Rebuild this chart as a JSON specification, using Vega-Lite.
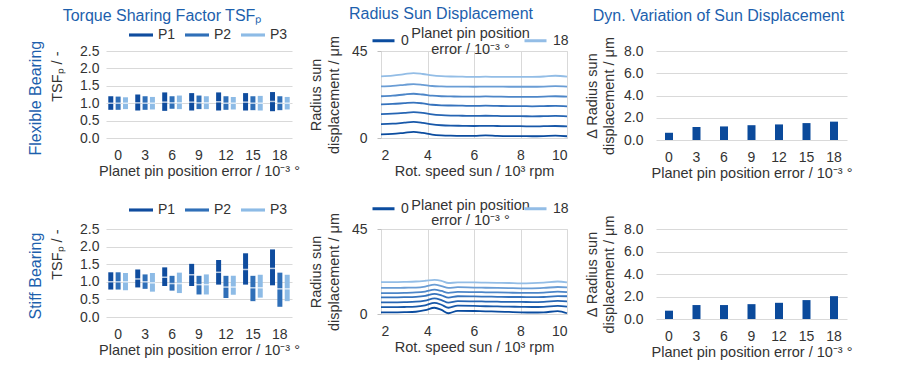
{
  "$schema": "https://vega.github.io/schema/vega-lite/v6.json",
  "background": "white",
  "padding": {"left": 27, "top": 5, "right": 5, "bottom": 5},
  "config": {
    "font": "Liberation Sans",
    "view": {"stroke": null},
    "axis": {"labelFont": "Liberation Sans", "titleFont": "Liberation Sans", "labelFontSize": 14, "labelColor": "#333333", "titleFontSize": 14.5, "titleFontWeight": "normal", "titleColor": "#333333", "gridColor": "#d9d9d9", "domain": false, "ticks": false},
    "legend": {"labelFont": "Liberation Sans", "labelFontSize": 14, "labelColor": "#333333", "padding": 0},
    "title": {"font": "Liberation Sans", "fontSize": 16, "fontWeight": "normal", "color": "#1d5fad"}
  },
  "datasets": {
    "tsf": [
      {"b": "Flexible", "err": 0, "P": "P1", "min": 0.81, "max": 1.20, "mean": 1.00},
      {"b": "Flexible", "err": 0, "P": "P2", "min": 0.81, "max": 1.19, "mean": 1.00},
      {"b": "Flexible", "err": 0, "P": "P3", "min": 0.83, "max": 1.17, "mean": 1.00},
      {"b": "Flexible", "err": 3, "P": "P1", "min": 0.79, "max": 1.25, "mean": 1.01},
      {"b": "Flexible", "err": 3, "P": "P2", "min": 0.81, "max": 1.20, "mean": 1.00},
      {"b": "Flexible", "err": 3, "P": "P3", "min": 0.82, "max": 1.18, "mean": 1.00},
      {"b": "Flexible", "err": 6, "P": "P1", "min": 0.78, "max": 1.31, "mean": 1.03},
      {"b": "Flexible", "err": 6, "P": "P2", "min": 0.84, "max": 1.20, "mean": 1.01},
      {"b": "Flexible", "err": 6, "P": "P3", "min": 0.83, "max": 1.22, "mean": 1.01},
      {"b": "Flexible", "err": 9, "P": "P1", "min": 0.79, "max": 1.29, "mean": 1.03},
      {"b": "Flexible", "err": 9, "P": "P2", "min": 0.83, "max": 1.22, "mean": 1.01},
      {"b": "Flexible", "err": 9, "P": "P3", "min": 0.83, "max": 1.20, "mean": 1.01},
      {"b": "Flexible", "err": 12, "P": "P1", "min": 0.79, "max": 1.31, "mean": 1.04},
      {"b": "Flexible", "err": 12, "P": "P2", "min": 0.81, "max": 1.20, "mean": 1.00},
      {"b": "Flexible", "err": 12, "P": "P3", "min": 0.82, "max": 1.18, "mean": 1.00},
      {"b": "Flexible", "err": 15, "P": "P1", "min": 0.79, "max": 1.29, "mean": 1.03},
      {"b": "Flexible", "err": 15, "P": "P2", "min": 0.80, "max": 1.20, "mean": 1.00},
      {"b": "Flexible", "err": 15, "P": "P3", "min": 0.79, "max": 1.21, "mean": 1.00},
      {"b": "Flexible", "err": 18, "P": "P1", "min": 0.77, "max": 1.32, "mean": 1.05},
      {"b": "Flexible", "err": 18, "P": "P2", "min": 0.80, "max": 1.20, "mean": 1.00},
      {"b": "Flexible", "err": 18, "P": "P3", "min": 0.82, "max": 1.18, "mean": 1.00},
      {"b": "Stiff", "err": 0, "P": "P1", "min": 0.78, "max": 1.27, "mean": 1.00},
      {"b": "Stiff", "err": 0, "P": "P2", "min": 0.78, "max": 1.27, "mean": 1.00},
      {"b": "Stiff", "err": 0, "P": "P3", "min": 0.76, "max": 1.25, "mean": 1.00},
      {"b": "Stiff", "err": 3, "P": "P1", "min": 0.84, "max": 1.35, "mean": 1.08},
      {"b": "Stiff", "err": 3, "P": "P2", "min": 0.80, "max": 1.21, "mean": 1.00},
      {"b": "Stiff", "err": 3, "P": "P3", "min": 0.72, "max": 1.25, "mean": 0.97},
      {"b": "Stiff", "err": 6, "P": "P1", "min": 0.88, "max": 1.41, "mean": 1.13},
      {"b": "Stiff", "err": 6, "P": "P2", "min": 0.75, "max": 1.17, "mean": 0.95},
      {"b": "Stiff", "err": 6, "P": "P3", "min": 0.68, "max": 1.26, "mean": 0.95},
      {"b": "Stiff", "err": 9, "P": "P1", "min": 0.88, "max": 1.51, "mean": 1.20},
      {"b": "Stiff", "err": 9, "P": "P2", "min": 0.64, "max": 1.17, "mean": 0.92},
      {"b": "Stiff", "err": 9, "P": "P3", "min": 0.64, "max": 1.21, "mean": 0.92},
      {"b": "Stiff", "err": 12, "P": "P1", "min": 0.92, "max": 1.62, "mean": 1.27},
      {"b": "Stiff", "err": 12, "P": "P2", "min": 0.54, "max": 1.17, "mean": 0.85},
      {"b": "Stiff", "err": 12, "P": "P3", "min": 0.63, "max": 1.17, "mean": 0.85},
      {"b": "Stiff", "err": 15, "P": "P1", "min": 0.92, "max": 1.81, "mean": 1.35},
      {"b": "Stiff", "err": 15, "P": "P2", "min": 0.45, "max": 1.17, "mean": 0.83},
      {"b": "Stiff", "err": 15, "P": "P3", "min": 0.55, "max": 1.20, "mean": 0.83},
      {"b": "Stiff", "err": 18, "P": "P1", "min": 0.90, "max": 1.92, "mean": 1.38},
      {"b": "Stiff", "err": 18, "P": "P2", "min": 0.29, "max": 1.26, "mean": 0.80},
      {"b": "Stiff", "err": 18, "P": "P3", "min": 0.45, "max": 1.20, "mean": 0.80}
    ],
    "rad": [
      {"b": "Flexible", "s": 2, "0": 1.9, "3": 7.2, "6": 12.4, "9": 17.4, "12": 21.6, "15": 26.7, "18": 31.9},
      {"b": "Flexible", "s": 2.5, "0": 2.1, "3": 7.4, "6": 12.6, "9": 17.6, "12": 21.9, "15": 27.0, "18": 32.3},
      {"b": "Flexible", "s": 3, "0": 2.7, "3": 7.9, "6": 13.0, "9": 18.0, "12": 22.5, "15": 27.5, "18": 33.0},
      {"b": "Flexible", "s": 3.4, "0": 3.2, "3": 8.3, "6": 13.4, "9": 18.3, "12": 22.9, "15": 27.9, "18": 33.6},
      {"b": "Flexible", "s": 3.8, "0": 2.6, "3": 7.8, "6": 13.0, "9": 17.9, "12": 22.5, "15": 27.5, "18": 33.1},
      {"b": "Flexible", "s": 4.2, "0": 1.8, "3": 7.0, "6": 12.2, "9": 17.2, "12": 21.9, "15": 26.9, "18": 32.4},
      {"b": "Flexible", "s": 4.6, "0": 1.4, "3": 6.6, "6": 11.8, "9": 16.9, "12": 21.6, "15": 26.7, "18": 32.0},
      {"b": "Flexible", "s": 5, "0": 1.2, "3": 6.4, "6": 11.6, "9": 16.8, "12": 21.5, "15": 26.6, "18": 31.8},
      {"b": "Flexible", "s": 5.5, "0": 1.1, "3": 6.3, "6": 11.5, "9": 16.7, "12": 21.4, "15": 26.6, "18": 31.7},
      {"b": "Flexible", "s": 6, "0": 1.1, "3": 6.2, "6": 11.4, "9": 16.6, "12": 21.4, "15": 26.5, "18": 31.6},
      {"b": "Flexible", "s": 6.5, "0": 1.4, "3": 6.3, "6": 11.5, "9": 16.7, "12": 21.5, "15": 26.6, "18": 31.7},
      {"b": "Flexible", "s": 7, "0": 1.1, "3": 6.2, "6": 11.4, "9": 16.6, "12": 21.4, "15": 26.6, "18": 31.6},
      {"b": "Flexible", "s": 7.5, "0": 1.0, "3": 6.1, "6": 11.3, "9": 16.5, "12": 21.3, "15": 26.5, "18": 31.6},
      {"b": "Flexible", "s": 8, "0": 1.0, "3": 6.1, "6": 11.3, "9": 16.5, "12": 21.3, "15": 26.5, "18": 31.6},
      {"b": "Flexible", "s": 8.5, "0": 0.9, "3": 6.0, "6": 11.2, "9": 16.4, "12": 21.3, "15": 26.5, "18": 31.6},
      {"b": "Flexible", "s": 9, "0": 1.0, "3": 6.1, "6": 11.3, "9": 16.5, "12": 21.4, "15": 26.6, "18": 31.8},
      {"b": "Flexible", "s": 9.5, "0": 1.2, "3": 6.2, "6": 11.4, "9": 16.6, "12": 21.6, "15": 26.8, "18": 32.2},
      {"b": "Flexible", "s": 10, "0": 0.9, "3": 6.0, "6": 11.2, "9": 16.4, "12": 21.4, "15": 26.6, "18": 31.7},
      {"b": "Stiff", "s": 2, "0": 0.9, "3": 3.6, "6": 6.2, "9": 8.8, "12": 11.1, "15": 13.8, "18": 16.9},
      {"b": "Stiff", "s": 2.5, "0": 0.9, "3": 3.6, "6": 6.2, "9": 8.8, "12": 11.1, "15": 13.8, "18": 16.9},
      {"b": "Stiff", "s": 3, "0": 1.0, "3": 3.7, "6": 6.3, "9": 8.9, "12": 11.2, "15": 13.9, "18": 17.0},
      {"b": "Stiff", "s": 3.5, "0": 1.2, "3": 3.9, "6": 6.5, "9": 9.1, "12": 11.4, "15": 14.0, "18": 17.2},
      {"b": "Stiff", "s": 3.9, "0": 2.0, "3": 4.6, "6": 7.1, "9": 9.6, "12": 11.9, "15": 14.5, "18": 17.6},
      {"b": "Stiff", "s": 4.3, "0": 3.3, "3": 5.9, "6": 8.3, "9": 10.7, "12": 12.9, "15": 15.5, "18": 18.1},
      {"b": "Stiff", "s": 4.6, "0": 2.2, "3": 4.9, "6": 7.4, "9": 9.9, "12": 12.2, "15": 14.8, "18": 17.6},
      {"b": "Stiff", "s": 4.9, "0": 0.4, "3": 3.3, "6": 6.0, "9": 8.7, "12": 11.2, "15": 13.8, "18": 16.4},
      {"b": "Stiff", "s": 5.3, "0": 1.7, "3": 4.4, "6": 6.8, "9": 9.4, "12": 11.7, "15": 14.2, "18": 16.7},
      {"b": "Stiff", "s": 6, "0": 1.6, "3": 4.3, "6": 6.7, "9": 9.3, "12": 11.6, "15": 14.0, "18": 16.7},
      {"b": "Stiff", "s": 6.5, "0": 1.4, "3": 4.1, "6": 6.6, "9": 9.2, "12": 11.5, "15": 13.9, "18": 16.6},
      {"b": "Stiff", "s": 7, "0": 1.3, "3": 4.0, "6": 6.5, "9": 9.1, "12": 11.4, "15": 13.8, "18": 16.5},
      {"b": "Stiff", "s": 7.5, "0": 1.1, "3": 3.9, "6": 6.4, "9": 9.0, "12": 11.3, "15": 13.7, "18": 16.4},
      {"b": "Stiff", "s": 8, "0": 0.9, "3": 3.8, "6": 6.4, "9": 9.0, "12": 11.2, "15": 13.6, "18": 16.2},
      {"b": "Stiff", "s": 8.5, "0": 0.8, "3": 3.7, "6": 6.3, "9": 8.9, "12": 11.2, "15": 13.6, "18": 16.3},
      {"b": "Stiff", "s": 9, "0": 0.9, "3": 3.8, "6": 6.4, "9": 9.0, "12": 11.3, "15": 13.8, "18": 16.6},
      {"b": "Stiff", "s": 9.6, "0": 1.5, "3": 4.3, "6": 6.9, "9": 9.5, "12": 11.8, "15": 14.3, "18": 17.2},
      {"b": "Stiff", "s": 10, "0": 0.4, "3": 3.9, "6": 6.7, "9": 9.4, "12": 11.6, "15": 14.1, "18": 16.7}
    ],
    "dyn": [
      {"b": "Flexible", "err": 0, "d": 0.65},
      {"b": "Flexible", "err": 3, "d": 1.17},
      {"b": "Flexible", "err": 6, "d": 1.22},
      {"b": "Flexible", "err": 9, "d": 1.33},
      {"b": "Flexible", "err": 12, "d": 1.40},
      {"b": "Flexible", "err": 15, "d": 1.52},
      {"b": "Flexible", "err": 18, "d": 1.65},
      {"b": "Stiff", "err": 0, "d": 0.74},
      {"b": "Stiff", "err": 3, "d": 1.24},
      {"b": "Stiff", "err": 6, "d": 1.24},
      {"b": "Stiff", "err": 9, "d": 1.32},
      {"b": "Stiff", "err": 12, "d": 1.44},
      {"b": "Stiff", "err": 15, "d": 1.68},
      {"b": "Stiff", "err": 18, "d": 2.03}
    ]
  },
  "spacing": 178,
  "bounds": "flush",
  "resolve": {"scale": {"color": "independent"}, "legend": {"color": "independent"}},
  "vconcat": [
    {
      "title": {"text": "Flexible Bearing", "orient": "left", "offset": 6, "dx": 24},
      "spacing": 89,
      "bounds": "flush",
      "resolve": {"scale": {"color": "independent"}, "legend": {"color": "independent"}},
      "hconcat": [
        {
          "width": 186, "height": 87,
          "title": {"text": "Torque Sharing Factor TSFₚ", "offset": -1, "frame": "group", "dx": -37},
          "data": {"name": "tsf"},
          "transform": [{"filter": "datum.b == 'Flexible'"}],
          "encoding": {
            "x": {"field": "err", "type": "ordinal", "scale": {"paddingInner": 0.27, "paddingOuter": 0.085}, "axis": {"title": "Planet pin position error / 10⁻³ °", "labelAngle": 0, "labelPadding": 10, "titlePadding": 2}},
            "xOffset": {"field": "P", "type": "nominal", "scale": {"paddingInner": 0.32, "paddingOuter": 0}}
          },
          "layer": [
            {"mark": {"type": "bar"},
             "encoding": {
               "y": {"field": "min", "type": "quantitative", "scale": {"domain": [0, 2.5], "nice": false}, "axis": {"title": "TSFₚ / -", "values": [0, 0.5, 1, 1.5, 2, 2.5], "format": ".1f", "labelPadding": 7, "titlePadding": 15, "titleAnchor": "end", "grid": true}},
               "y2": {"field": "max"},
               "color": {"field": "P", "type": "nominal", "scale": {"range": ["#0f4c9e", "#2f6fb8", "#8dbbe6"]}, "legend": {"title": null, "orient": "none", "legendX": 23, "legendY": -28, "direction": "horizontal", "symbolType": "M-1,-0.13H1V0.13H-1Z", "symbolSize": 576, "symbolStrokeWidth": 0, "columnPadding": 9, "labelOffset": 5}}
             }},
            {"mark": {"type": "tick", "color": "white", "thickness": 1.5, "size": 6},
             "encoding": {"y": {"field": "mean", "type": "quantitative", "scale": {"domain": [0, 2.5], "nice": false}, "axis": {"title": "TSFₚ / -", "values": [0, 0.5, 1, 1.5, 2, 2.5], "format": ".1f", "labelPadding": 7, "titlePadding": 15, "titleAnchor": "end", "grid": true}}}}
          ]
        },
        {
          "width": 186, "height": 87,
          "title": {"text": "Radius Sun Displacement", "offset": 4, "frame": "group", "dx": -33},
          "view": {"stroke": "#d9d9d9"},
          "layer": [
            {
              "data": {"name": "rad"},
              "transform": [{"filter": "datum.b == 'Flexible'"}, {"fold": ["0", "3", "6", "9", "12", "15", "18"], "as": ["err", "v"]}],
              "mark": {"type": "line", "strokeWidth": 1.8, "interpolate": "monotone"},
              "encoding": {
                "x": {"field": "s", "type": "quantitative", "scale": {"domain": [2, 10], "nice": false}, "axis": {"values": [2, 4, 6, 8, 10], "grid": true, "title": "Rot. speed sun / 10³ rpm", "labelPadding": 10, "titlePadding": 2}},
                "y": {"field": "v", "type": "quantitative", "scale": {"domain": [0, 45], "nice": false}, "axis": {"values": [0, 15, 30, 45], "grid": false, "ticks": true, "tickSize": 4, "tickColor": "#bfbfbf", "labelPadding": 10, "title": ["Radius sun", "displacement / μm"], "titleLineHeight": 18, "titlePadding": 10}},
                "color": {"field": "err", "type": "ordinal", "scale": {"domain": ["0", "3", "6", "9", "12", "15", "18"], "range": ["#0b4c9f", "#1858a9", "#2665b3", "#3673bd", "#4d86c8", "#6a9dd5", "#93bde6"]}, "legend": {"values": ["0", "18"], "title": null, "orient": "none", "legendX": -10, "legendY": -23, "direction": "horizontal", "symbolType": "stroke", "symbolSize": 484, "symbolStrokeWidth": 3, "columnPadding": 109, "labelOffset": 5}}
              }
            },
            {
              "data": {"values": [{}]},
              "mark": {"type": "text", "text": ["Planet pin position", "error / 10⁻³ °"], "fontSize": 14.5, "lineHeight": 16, "color": "#333333", "align": "center", "baseline": "middle"},
              "encoding": {"x": {"datum": 5.85}, "y": {"datum": 53.8}}
            }
          ]
        },
        {
          "width": 191, "height": 89,
          "title": {"text": "Dyn. Variation of Sun Displacement", "offset": 13, "frame": "group", "dx": -33},
          "data": {"name": "dyn"},
          "transform": [{"filter": "datum.b == 'Flexible'"}],
          "mark": {"type": "bar", "color": "#0b4a9b"},
          "encoding": {
            "x": {"field": "err", "type": "ordinal", "scale": {"paddingInner": 0.709, "paddingOuter": 0.327}, "axis": {"title": "Planet pin position error / 10⁻³ °", "labelAngle": 0, "labelPadding": 10, "titlePadding": 2}},
            "y": {"field": "d", "type": "quantitative", "scale": {"domain": [0, 8], "nice": false}, "axis": {"values": [0, 2, 4, 6, 8], "format": ".1f", "grid": true, "labelPadding": 13, "title": ["Δ Radius sun", "displacement / μm"], "titleLineHeight": 17, "titlePadding": 7}}
          }
        }
      ]
    },
    {
      "title": {"text": "Stiff Bearing", "orient": "left", "offset": 6, "dx": 39},
      "spacing": 89,
      "bounds": "flush",
      "resolve": {"scale": {"color": "independent"}, "legend": {"color": "independent"}},
      "hconcat": [
        {
          "width": 186, "height": 88,
          "data": {"name": "tsf"},
          "transform": [{"filter": "datum.b == 'Stiff'"}],
          "encoding": {
            "x": {"field": "err", "type": "ordinal", "scale": {"paddingInner": 0.27, "paddingOuter": 0.085}, "axis": {"title": "Planet pin position error / 10⁻³ °", "labelAngle": 0, "labelPadding": 10, "titlePadding": 2}},
            "xOffset": {"field": "P", "type": "nominal", "scale": {"paddingInner": 0.32, "paddingOuter": 0}}
          },
          "layer": [
            {"mark": {"type": "bar"},
             "encoding": {
               "y": {"field": "min", "type": "quantitative", "scale": {"domain": [0, 2.5], "nice": false}, "axis": {"title": "TSFₚ / -", "values": [0, 0.5, 1, 1.5, 2, 2.5], "format": ".1f", "labelPadding": 7, "titlePadding": 15, "titleAnchor": "end", "grid": true}},
               "y2": {"field": "max"},
               "color": {"field": "P", "type": "nominal", "scale": {"range": ["#0f4c9e", "#2f6fb8", "#8dbbe6"]}, "legend": {"title": null, "orient": "none", "legendX": 23, "legendY": -31, "direction": "horizontal", "symbolType": "M-1,-0.13H1V0.13H-1Z", "symbolSize": 576, "symbolStrokeWidth": 0, "columnPadding": 9, "labelOffset": 5}}
             }},
            {"mark": {"type": "tick", "color": "white", "thickness": 1.5, "size": 6},
             "encoding": {"y": {"field": "mean", "type": "quantitative", "scale": {"domain": [0, 2.5], "nice": false}, "axis": {"title": "TSFₚ / -", "values": [0, 0.5, 1, 1.5, 2, 2.5], "format": ".1f", "labelPadding": 7, "titlePadding": 15, "titleAnchor": "end", "grid": true}}}}
          ]
        },
        {
          "width": 186, "height": 85,
          "view": {"stroke": "#d9d9d9"},
          "layer": [
            {
              "data": {"name": "rad"},
              "transform": [{"filter": "datum.b == 'Stiff'"}, {"fold": ["0", "3", "6", "9", "12", "15", "18"], "as": ["err", "v"]}],
              "mark": {"type": "line", "strokeWidth": 1.8, "interpolate": "monotone"},
              "encoding": {
                "x": {"field": "s", "type": "quantitative", "scale": {"domain": [2, 10], "nice": false}, "axis": {"values": [2, 4, 6, 8, 10], "grid": true, "title": "Rot. speed sun / 10³ rpm", "labelPadding": 10, "titlePadding": 2}},
                "y": {"field": "v", "type": "quantitative", "scale": {"domain": [0, 45], "nice": false}, "axis": {"values": [0, 15, 30, 45], "grid": false, "ticks": true, "tickSize": 4, "tickColor": "#bfbfbf", "labelPadding": 10, "title": ["Radius sun", "displacement / μm"], "titleLineHeight": 18, "titlePadding": 10}},
                "color": {"field": "err", "type": "ordinal", "scale": {"domain": ["0", "3", "6", "9", "12", "15", "18"], "range": ["#0b4c9f", "#1858a9", "#2665b3", "#3673bd", "#4d86c8", "#6a9dd5", "#93bde6"]}, "legend": {"values": ["0", "18"], "title": null, "orient": "none", "legendX": -10, "legendY": -33, "direction": "horizontal", "symbolType": "stroke", "symbolSize": 484, "symbolStrokeWidth": 3, "columnPadding": 109, "labelOffset": 5}}
              }
            },
            {
              "data": {"values": [{}]},
              "mark": {"type": "text", "text": ["Planet pin position", "error / 10⁻³ °"], "fontSize": 14.5, "lineHeight": 15, "color": "#333333", "align": "center", "baseline": "middle"},
              "encoding": {"x": {"datum": 5.85}, "y": {"datum": 57.2}}
            }
          ]
        },
        {
          "width": 191, "height": 90,
          "data": {"name": "dyn"},
          "transform": [{"filter": "datum.b == 'Stiff'"}],
          "mark": {"type": "bar", "color": "#0b4a9b"},
          "encoding": {
            "x": {"field": "err", "type": "ordinal", "scale": {"paddingInner": 0.709, "paddingOuter": 0.327}, "axis": {"title": "Planet pin position error / 10⁻³ °", "labelAngle": 0, "labelPadding": 10, "titlePadding": 2}},
            "y": {"field": "d", "type": "quantitative", "scale": {"domain": [0, 8], "nice": false}, "axis": {"values": [0, 2, 4, 6, 8], "format": ".1f", "grid": true, "labelPadding": 13, "title": ["Δ Radius sun", "displacement / μm"], "titleLineHeight": 17, "titlePadding": 7}}
          }
        }
      ]
    }
  ]
}
